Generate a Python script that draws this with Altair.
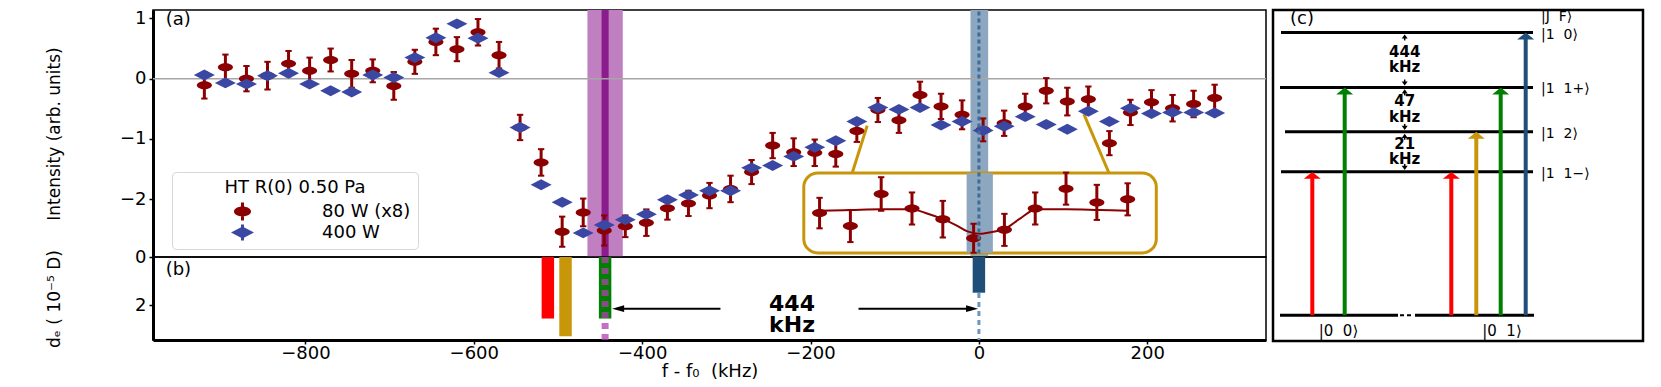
import altair as alt
import pandas as pd

# ---------------- data ----------------
freq_khz = [-920, -895, -870, -845, -820, -795, -770, -745, -720, -695,
            -670, -645, -620, -595, -570, -545, -520, -495, -470, -445,
            -420, -395, -370, -345, -320, -295, -270, -245, -220, -195,
            -170, -145, -120, -95, -70, -45, -20, 5, 30, 55,
            80, 105, 130, 155, 180, 205, 230, 255, 280]
red_int = [-0.11, 0.19, 0.00, 0.05, 0.25, 0.13, 0.31, 0.08, 0.13, -0.12,
           0.28, 0.61, 0.49, 0.77, 0.39, -0.81, -1.39, -2.54, -2.22, -2.52,
           -2.45, -2.39, -2.15, -2.07, -1.94, -1.83, -1.55, -1.11, -1.22, -1.23,
           -1.25, -0.87, -0.52, -0.69, -0.27, -0.46, -0.60, -0.85, -0.74, -0.46,
           -0.20, -0.38, -0.34, -1.07, -0.56, -0.39, -0.49, -0.42, -0.32]
red_err = [0.22, 0.21, 0.21, 0.23, 0.21, 0.22, 0.19, 0.23, 0.19, 0.23,
           0.20, 0.22, 0.20, 0.22, 0.22, 0.21, 0.22, 0.25, 0.23, 0.25,
           0.18, 0.22, 0.19, 0.21, 0.21, 0.22, 0.20, 0.21, 0.23, 0.22,
           0.21, 0.18, 0.20, 0.21, 0.22, 0.21, 0.24, 0.19, 0.21, 0.21,
           0.21, 0.23, 0.21, 0.20, 0.21, 0.20, 0.22, 0.22, 0.22]
blue_int = [0.06, -0.07, -0.09, 0.05, 0.09, -0.09, -0.20, -0.22, 0.06, 0.02,
            0.35, 0.68, 0.91, 0.67, 0.10, -0.81, -1.76, -2.05, -2.56, -2.43,
            -2.34, -2.25, -2.01, -1.93, -1.86, -1.86, -1.48, -1.44, -1.29, -1.14,
            -1.03, -0.71, -0.48, -0.51, -0.48, -0.77, -0.71, -0.86, -0.79, -0.63,
            -0.76, -0.84, -0.54, -0.71, -0.49, -0.58, -0.56, -0.56, -0.57]
series_names = ["80 W (x8)", "400 W"]
legend_title = "HT R(0) 0.50 Pa"

# inset fit curve
fit_khz = [-120, -95, -70, -45, -34, -20, -9, 0, 10, 19, 31, 42, 56, 80, 107, 130]
fit_int = [-0.49, -0.48, -0.47, -0.47, -0.52, -0.60, -0.68, -0.76, -0.79, -0.77,
           -0.72, -0.60, -0.47, -0.47, -0.48, -0.49]
inset_range = [-120, 130]

# transitions (panel b): position (kHz) and d_e (1e-5 D)
line_pos = [-512, -491, -444, 0]
line_de = [2.55, 3.28, 2.55, 1.48]

# uncertainty bands in panel (a)
band_center = [-444, 0.5]
band_half = [21, 10.5]

splitting = 444

# energy level diagram (c), schematic energies
NB = "\u00a0"
level_names = ["|1" + NB * 2 + "0⟩", "|1" + NB * 2 + "1+⟩", "|1" + NB * 2 + "2⟩", "|1" + NB * 2 + "1−⟩"]
level_energy = [8.54, 6.88, 5.54, 4.33]
level_start = [0.8, 0.7, 1.2, 0.8]
ground_names = ["|0" + NB * 2 + "0⟩", "|0" + NB * 2 + "1⟩"]
header = "|J" + NB * 2 + "F⟩"
arrow_x = [3.93, 7.17, 17.83, 20.33, 22.77, 25.27]
arrow_to = [3, 1, 3, 2, 1, 0]
gap_labels = ["444", "47", "21"]

# ---------------- styles ----------------
RED = "#8b0000"
BLUE = "#3b48a3"
GOLD = "#c8960a"
GREEN = "#008000"
NAVY = "#1f4e79"
PURPLE_BAND = "#c07fc0"
PURPLE_LINE = "#8b1c8b"
STEEL_BAND = "#8ea7c0"
series_colors = [RED, BLUE]
line_colors = ["#ff0000", GOLD, GREEN, NAVY]
band_colors = [PURPLE_BAND, STEEL_BAND]
arrow_colors = ["#ff0000", GREEN, "#ff0000", GOLD, GREEN, NAVY]

FONT = "DejaVu Sans"

W, HA, HB = 1113, 247, 83
WC, HC = 370, 331
BAR_HALF = 7.4      # kHz, half width of the bars in (b)
LINE_HALF = 4.2     # kHz, half width of the centre line of the purple band

xs = alt.Scale(domain=[-981, 341], nice=False, zero=False)
ysa = alt.Scale(domain=[-2.96, 1.14], nice=False, zero=False)
ysb = alt.Scale(domain=[0, 3.44], nice=False, zero=False, reverse=True)

# inset mapping (zoomed copy of the region around 0 kHz)
ISRC, IX0, IXS = 5, -6.3, 1.4637
IY0, IYS = -1.572, 1.267
inset_box = [-208, 210.7, -1.566, -2.892]
inset_band = [-14.6, 16.6]
conn_x = [-132.7, 124.7]
conn_y = [-0.78, -0.587]
conn_x2 = [-150.5, 154.5]
conn_y2 = [-1.566, -1.566]

# symbol paths
ELLIPSE = ("M-0.72,0 C-0.72,-0.21 -0.4,-0.38 0,-0.38 C0.4,-0.38 0.72,-0.21 0.72,0 "
           "C0.72,0.21 0.4,0.38 0,0.38 C-0.4,0.38 -0.72,0.21 -0.72,0 Z")
DIAMOND = "M-1,0 L0,-0.52 L1,0 L0,0.52 Z"
LEG_RED = ("M-0.74,0 C-0.74,-0.24 -0.41,-0.43 0,-0.43 C0.41,-0.43 0.74,-0.24 0.74,0 "
           "C0.74,0.24 0.41,0.43 0,0.43 C-0.41,0.43 -0.74,0.24 -0.74,0 Z "
           "M-0.13,-0.78 L0.13,-0.78 L0.13,0.78 L-0.13,0.78 Z")
LEG_BLUE = "M-1,0 L0,-0.52 L1,0 L0,0.52 Z M-0.13,-0.7 L0.13,-0.7 L0.13,0.7 L-0.13,0.7 Z"
HEAD_L = "M-1,0 L1,-0.58 L1,0.58 Z"
HEAD_R = "M1,0 L-1,-0.58 L-1,0.58 Z"
HEAD_UP = "M-1,0.41 L0,-0.41 L1,0.41 Z"
SMALL_UP = "M-1,0.7 L0,-0.7 L1,0.7 Z"
SMALL_DN = "M-1,-0.7 L0,0.7 L1,-0.7 Z"

# ---------------- axes ----------------
axis_a = alt.Axis(values=[-2, -1, 0, 1], title="Intensity (arb. units)",
                  titleX=-99, titleY=HA / 2, titleBaseline="middle", titleAngle=270,
                  titleFont=FONT, titleFontSize=17, titleFontWeight="normal",
                  domainWidth=3, tickSize=4, tickWidth=1.5, labelPadding=3)
axis_b = alt.Axis(values=[0, 2], title="dₑ ( 10⁻⁵ D)",
                  titleX=-99, titleY=HB / 2, titleBaseline="middle", titleAngle=270,
                  titleFont=FONT, titleFontSize=17, titleFontWeight="normal",
                  domainWidth=3, tickSize=4, tickWidth=1.5, labelPadding=3)
axis_x = alt.Axis(values=[-800, -600, -400, -200, 0, 200], title="f - f₀" + NB * 2 + "(kHz)",
                  titleFont=FONT, titleFontSize=18, titleFontWeight="normal",
                  domainWidth=3, tickSize=4, tickWidth=1.5, labelPadding=0, titlePadding=0)


def xa(f):
    return alt.X(f"{f}:Q", scale=xs, axis=None)


def xb(f):
    return alt.X(f"{f}:Q", scale=xs, axis=axis_x)


def ya(f):
    return alt.Y(f"{f}:Q", scale=ysa, axis=axis_a)


def yb(f):
    return alt.Y(f"{f}:Q", scale=ysb, axis=axis_b)


# ---------------- tables ----------------
n = len(freq_khz)
main_df = pd.DataFrame({
    "x": freq_khz + freq_khz,
    "y": red_int + blue_int,
    "series": [series_names[0]] * n + [series_names[1]] * n,
})
red_df = pd.DataFrame({"x": freq_khz, "y": red_int, "err": red_err})
band_df = pd.DataFrame({"c": band_center, "h": band_half, "col": band_colors})
fit_df = pd.DataFrame({"x": fit_khz, "y": fit_int})

inset_calc = dict(
    xi=f"{IX0} + (datum.x - {ISRC}) * {IXS}",
    yi=f"{IY0} + {IYS} * datum.y",
)

# ---------------- panel (a) ----------------
bands = alt.Chart(band_df).transform_calculate(
    x1="datum.c - datum.h", x2="datum.c + datum.h"
).mark_rect().encode(
    x=xa("x1"), x2="x2:Q", y=alt.value(0), y2=alt.value(HA),
    color=alt.Color("col:N", scale=None),
)
purple_line = alt.Chart(pd.DataFrame({"x": [line_pos[2]]})).transform_calculate(
    x1=f"datum.x - {LINE_HALF}", x2=f"datum.x + {LINE_HALF}"
).mark_rect(color=PURPLE_LINE).encode(x=xa("x1"), x2="x2:Q", y=alt.value(0), y2=alt.value(HA))
zero_line = alt.Chart(pd.DataFrame({"y": [0]})).mark_rule(
    color="#a6a6a6", strokeWidth=1.5
).encode(y=ya("y"))
conn = alt.Chart(pd.DataFrame({"x": conn_x, "y": conn_y, "x2": conn_x2, "y2": conn_y2})).mark_rule(
    color=GOLD, strokeWidth=3
).encode(x=xa("x"), y=ya("y"), x2="x2:Q", y2="y2:Q")
box = alt.Chart(pd.DataFrame({"x": [inset_box[0]], "x2": [inset_box[1]],
                              "y": [inset_box[2]], "y2": [inset_box[3]]})).mark_rect(
    fill="white", stroke=GOLD, strokeWidth=3, cornerRadius=14
).encode(x=xa("x"), x2="x2:Q", y=ya("y"), y2="y2:Q")
ib = alt.Chart(pd.DataFrame({"x": [inset_band[0]], "x2": [inset_band[1]],
                             "y": [inset_box[2]], "y2": [inset_box[3]]})).mark_rect(
    color=STEEL_BAND
).encode(x=xa("x"), x2="x2:Q", y=ya("y"), y2="y2:Q")
fit = alt.Chart(fit_df).transform_calculate(**inset_calc).mark_line(
    color=RED, strokeWidth=2, interpolate="monotone"
).encode(x=xa("xi"), y=ya("yi"))
inset_base = alt.Chart(red_df).transform_filter(
    f"datum.x >= {inset_range[0]} && datum.x <= {inset_range[1]}"
).transform_calculate(**inset_calc).transform_calculate(
    lo=f"datum.yi - {IYS} * datum.err", hi=f"datum.yi + {IYS} * datum.err"
)
inset_err = inset_base.mark_rule(color=RED, strokeWidth=3).encode(
    x=xa("xi"), y=ya("lo"), y2="hi:Q")
inset_caps = inset_base.transform_fold(["lo", "hi"], as_=["end", "v"]).mark_point(
    shape="stroke", size=40, color=RED, strokeWidth=2, opacity=1
).encode(x=xa("xi"), y=ya("v"))
inset_pts = inset_base.mark_point(filled=True, size=441, opacity=1, shape=ELLIPSE, color=RED).encode(
    x=xa("xi"), y=ya("yi"))

err_base = alt.Chart(red_df).transform_calculate(
    lo="datum.y - datum.err", hi="datum.y + datum.err")
err = err_base.mark_rule(color=RED, strokeWidth=3).encode(x=xa("x"), y=ya("lo"), y2="hi:Q")
caps = err_base.transform_fold(["lo", "hi"], as_=["end", "v"]).mark_point(
    shape="stroke", size=40, color=RED, strokeWidth=2, opacity=1
).encode(x=xa("x"), y=ya("v"))

pts = alt.Chart(main_df).mark_point(filled=True, size=441, opacity=1).encode(
    x=xa("x"),
    y=ya("y"),
    color=alt.Color("series:N", scale=alt.Scale(domain=series_names, range=series_colors), legend=None),
    shape=alt.Shape("series:N", scale=alt.Scale(domain=series_names, range=[ELLIPSE, DIAMOND]), legend=None),
)
leg = alt.Legend(title=legend_title, orient="none", legendX=19, legendY=162,
                 fillColor="white", strokeColor="#d6d6d6", cornerRadius=4, padding=7,
                 titleFont=FONT, titleFontSize=18, titleFontWeight="normal", titleColor="black",
                 titleAnchor="middle", titlePadding=3,
                 labelFont=FONT, labelFontSize=18, labelColor="black",
                 symbolSize=529, symbolOffset=52, labelOffset=68, symbolStrokeWidth=0,
                 rowPadding=0, symbolOpacity=1)
legend_layer = alt.Chart(pd.DataFrame({"series": series_names})).mark_point(
    filled=True, opacity=0
).encode(
    x=alt.value(0), y=alt.value(0),
    color=alt.Color("series:N", scale=alt.Scale(domain=series_names, range=series_colors), legend=leg),
    shape=alt.Shape("series:N", scale=alt.Scale(domain=series_names, range=[LEG_RED, LEG_BLUE]), legend=leg),
)
dash_a = alt.Chart(pd.DataFrame({"x": [line_pos[3]]})).mark_rule(
    color="#3d6d98", strokeWidth=3, strokeDash=[4, 3]
).encode(x=xa("x"), y=alt.value(1.5), y2=alt.value(HA))
lab_a = alt.Chart(pd.DataFrame({"x": [-966], "y": [0.97], "t": ["(a)"]})).mark_text(
    align="left", baseline="middle", font=FONT, fontSize=18, color="black"
).encode(x=xa("x"), y=ya("y"), text="t:N")

panel_a = alt.layer(
    bands, purple_line, zero_line, conn, box, ib, fit, inset_err, inset_caps, inset_pts,
    err, caps, pts, dash_a, lab_a, legend_layer
).resolve_scale(color="independent", shape="independent").properties(width=W, height=HA)

# ---------------- panel (b) ----------------
bars_df = pd.DataFrame({"x": line_pos, "de": line_de, "base": [0] * len(line_pos), "col": line_colors})
dash_b = alt.Chart(pd.DataFrame({"x": [line_pos[3]]})).mark_rule(
    color="#6e97bc", strokeWidth=3, strokeDash=[5, 4]
).encode(x=xb("x"), y=alt.value(0), y2=alt.value(HB))
bars = alt.Chart(bars_df).transform_calculate(
    x1=f"datum.x - {BAR_HALF}", x2=f"datum.x + {BAR_HALF}"
).mark_rect().encode(
    x=xb("x1"), x2="x2:Q", y=yb("base"), y2="de:Q",
    color=alt.Color("col:N", scale=None),
)
purple_dash = alt.Chart(pd.DataFrame({"x": [line_pos[2]]})).mark_rule(
    color="#b040b0", opacity=0.75, strokeWidth=7, strokeDash=[6, 5]
).encode(x=xb("x"), y=alt.value(0), y2=alt.value(HB))
arrow_df = pd.DataFrame({
    "tail": [-307, -143], "tip": [line_pos[2] + 8.4, line_pos[3] - 1],
    "y": [2.14, 2.14], "dir": ["left", "right"],
})
arrow_base = alt.Chart(arrow_df).transform_calculate(
    hx="datum.dir == 'left' ? datum.tip + 7.1 : datum.tip - 7.1")
arrow_lines = arrow_base.mark_rule(color="black", strokeWidth=2).encode(
    x=xb("tail"), x2="hx:Q", y=yb("y"))
arrow_heads = arrow_base.mark_point(filled=True, size=144, opacity=1, color="black").encode(
    x=xb("hx"), y=yb("y"),
    shape=alt.Shape("dir:N", scale=alt.Scale(domain=["left", "right"], range=[HEAD_L, HEAD_R]), legend=None),
)
mid = (line_pos[2] + line_pos[3]) / 2
txt_b = alt.Chart(pd.DataFrame({"x": [mid, mid], "y": [1.93, 2.83], "t": [str(splitting), "kHz"]})).mark_text(
    align="center", baseline="middle", font=FONT, fontSize=22, fontWeight="bold", color="black"
).encode(x=xb("x"), y=yb("y"), text="t:N")
lab_b = alt.Chart(pd.DataFrame({"x": [-966], "y": [0.54], "t": ["(b)"]})).mark_text(
    align="left", baseline="middle", font=FONT, fontSize=18, color="black"
).encode(x=xb("x"), y=yb("y"), text="t:N")

panel_b = alt.layer(dash_b, bars, purple_dash, arrow_lines, arrow_heads, txt_b, lab_b).properties(
    width=W, height=HB)

left = alt.vconcat(panel_a, panel_b, spacing=0, bounds="flush")

# ---------------- panel (c) ----------------
xc = alt.Scale(domain=[0, 37], nice=False, zero=False)
yc = alt.Scale(domain=[-0.78, 9.22], nice=False, zero=False)


def xcq(f):
    return alt.X(f"{f}:Q", scale=xc, axis=None)


def ycq(f):
    return alt.Y(f"{f}:Q", scale=yc, axis=None)


lev_df = pd.DataFrame({"name": level_names, "E": level_energy, "x": level_start,
                       "x2": [26.0] * len(level_names)})
levels = alt.Chart(lev_df).mark_rule(color="black", strokeWidth=3).encode(
    x=xcq("x"), x2="x2:Q", y=ycq("E"))
lev_text = alt.Chart(lev_df).transform_calculate(lx="26.8").mark_text(
    align="left", baseline="middle", font=FONT, fontSize=14, color="black", dy=2
).encode(x=xcq("lx"), y=ycq("E"), text="name:N")
ground = alt.Chart(pd.DataFrame({"x": [0.7, 14.2], "x2": [12.5, 26.1], "E": [0, 0]})).mark_rule(
    color="black", strokeWidth=3).encode(x=xcq("x"), x2="x2:Q", y=ycq("E"))
ground_gap = alt.Chart(pd.DataFrame({"x": [12.7], "x2": [14.0], "E": [0]})).mark_rule(
    color="black", strokeWidth=2, strokeDash=[4, 3]).encode(x=xcq("x"), x2="x2:Q", y=ycq("E"))
ground_text = alt.Chart(pd.DataFrame({"x": [6.55, 22.9], "E": [-0.49, -0.49], "t": ground_names})).mark_text(
    align="center", baseline="middle", font=FONT, fontSize=15, color="black"
).encode(x=xcq("x"), y=ycq("E"), text="t:N")
arr_df = pd.DataFrame({"x": arrow_x, "E": [level_energy[i] for i in arrow_to], "col": arrow_colors,
                       "base": [0] * len(arrow_x)})
arr_base = alt.Chart(arr_df).transform_calculate(top="datum.E - 0.15", hy="datum.E - 0.106")
shafts = arr_base.mark_rule(strokeWidth=4).encode(
    x=xcq("x"), y=ycq("base"), y2="top:Q", color=alt.Color("col:N", scale=None))
heads = arr_base.mark_point(filled=True, size=289, opacity=1, shape=HEAD_UP).encode(
    x=xcq("x"), y=ycq("hy"), color=alt.Color("col:N", scale=None))
gap_df = pd.DataFrame({
    "up": level_energy[:3], "lo": level_energy[1:], "lab": gap_labels,
})
gap_base = alt.Chart(gap_df).transform_calculate(
    gx="13.17", m="(datum.up + datum.lo) / 2",
    u1="datum.up - 0.1", u2="datum.up - 0.24", d1="datum.lo + 0.1", d2="datum.lo + 0.24")
gap_num = gap_base.transform_calculate(ty="datum.m + 0.25").mark_text(
    align="center", baseline="middle", font=FONT, fontSize=15, fontWeight="bold", color="black"
).encode(x=xcq("gx"), y=ycq("ty"), text="lab:N")
gap_unit = gap_base.transform_calculate(ty="datum.m - 0.22", t="'kHz'").mark_text(
    align="center", baseline="middle", font=FONT, fontSize=15, fontWeight="bold", color="black"
).encode(x=xcq("gx"), y=ycq("ty"), text="t:N")
stem_up = gap_base.mark_rule(color="black", strokeWidth=1.5).encode(x=xcq("gx"), y=ycq("u1"), y2="u2:Q")
stem_dn = gap_base.mark_rule(color="black", strokeWidth=1.5).encode(x=xcq("gx"), y=ycq("d1"), y2="d2:Q")
tri_up = gap_base.transform_calculate(p="datum.up - 0.12").mark_point(
    filled=True, size=36, opacity=1, color="black", shape=SMALL_UP).encode(x=xcq("gx"), y=ycq("p"))
tri_dn = gap_base.transform_calculate(p="datum.lo + 0.12").mark_point(
    filled=True, size=36, opacity=1, color="black", shape=SMALL_DN).encode(x=xcq("gx"), y=ycq("p"))
c_text = alt.Chart(pd.DataFrame({"x": [1.7, 26.8], "y": [8.96, 9.02], "t": ["(c)", header],
                                 "s": [18, 14]})).mark_text(
    align="left", baseline="middle", font=FONT, color="black"
).encode(x=xcq("x"), y=ycq("y"), text="t:N", size=alt.Size("s:Q", scale=None, legend=None))

panel_c = alt.layer(
    levels, ground, ground_gap, shafts, heads, lev_text, ground_text,
    stem_up, stem_dn, tri_up, tri_dn, gap_num, gap_unit, c_text
).properties(width=WC, height=HC, view=alt.ViewBackground(stroke="black", strokeWidth=2.5))

chart = alt.hconcat(left, panel_c, spacing=3).properties(
    padding={"left": 36, "top": -1, "right": 4, "bottom": 0}
).configure_view(stroke="black", strokeWidth=1.5).configure_axis(
    grid=False, labelFont=FONT, labelFontSize=18, labelColor="black",
    tickColor="black", domainColor="black", titleColor="black"
)

chart.save("out.html", embed_options={"renderer": "svg", "actions": False})
